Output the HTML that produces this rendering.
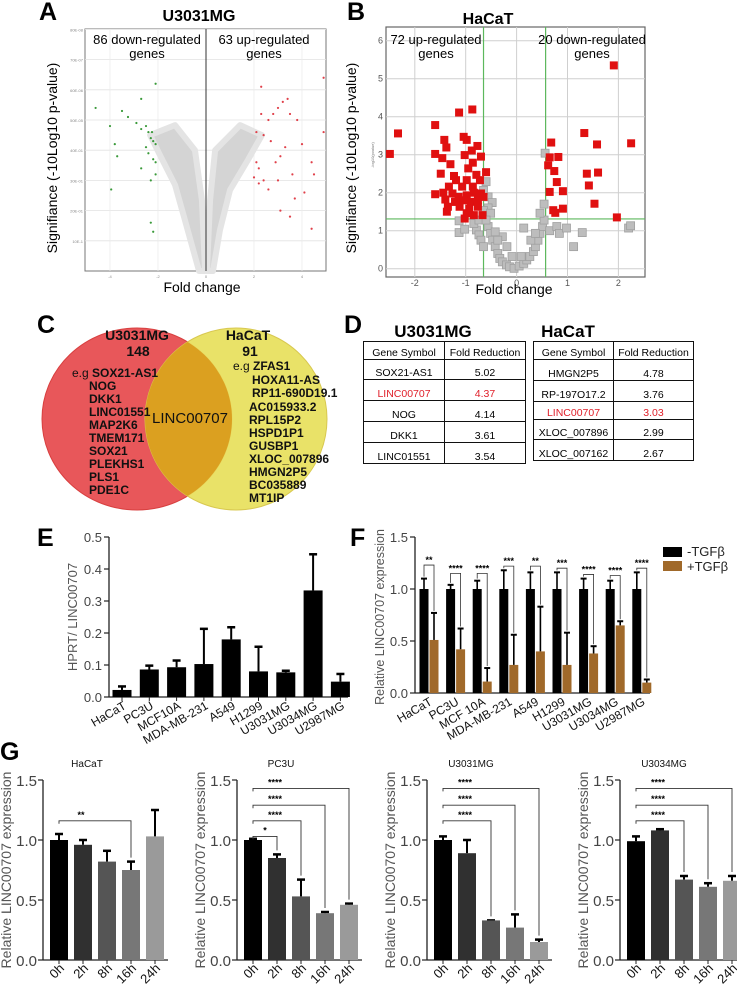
<!DOCTYPE html>
<html><head><meta charset="utf-8"><style>
body{margin:0;background:#fff;}
#wrap{position:relative;width:737px;height:992px;overflow:hidden;background:#fff;font-family:"Liberation Sans",Arial,sans-serif;}
svg{position:absolute;left:0;top:0;}
table.gt{position:absolute;border-collapse:collapse;font-size:10.5px;font-family:"Liberation Sans",sans-serif;}
table.gt td{border:1.5px solid #111;text-align:center;padding:0;vertical-align:bottom;}
.red{color:#e0202a;}
</style></head><body>
<div id="wrap">
<svg id="s" width="737" height="992" viewBox="0 0 737 992">
  <g font-weight="bold" font-size="25" fill="#000">
    <text x="39" y="20">A</text>
    <text x="347" y="20">B</text>
    <text x="37" y="333">C</text>
    <text x="344" y="333">D</text>
    <text x="37" y="546">E</text>
    <text x="350" y="546">F</text>
    <text x="0" y="760">G</text>
  </g>
  <g>
    <ellipse cx="137" cy="419" rx="95" ry="91" fill="#e8575a" stroke="#d84040"/>
    <ellipse cx="236" cy="419" rx="91" ry="91" fill="#e8e060" fill-opacity="0.95" stroke="#d8c850"/>
    <clipPath id="cr"><ellipse cx="137" cy="419" rx="95" ry="91"/></clipPath>
    <ellipse cx="236" cy="419" rx="91" ry="91" fill="#dba020" clip-path="url(#cr)"/>
    <g font-size="12" font-weight="bold" fill="#111">
      <text x="137" y="340" text-anchor="middle" font-size="14">U3031MG</text>
      <text x="138" y="356" text-anchor="middle" font-size="14">148</text>
      <text x="72" y="377" font-weight="normal">e.g <tspan font-weight="bold">SOX21-AS1</tspan></text>
      <text x="89" y="390">NOG</text>
      <text x="89" y="403">DKK1</text>
      <text x="89" y="416">LINC01551</text>
      <text x="89" y="429">MAP2K6</text>
      <text x="89" y="442">TMEM171</text>
      <text x="89" y="455">SOX21</text>
      <text x="89" y="468">PLEKHS1</text>
      <text x="89" y="481">PLS1</text>
      <text x="89" y="494">PDE1C</text>
    </g>
    <text x="190" y="423" text-anchor="middle" font-size="15" fill="#111">LINC00707</text>
    <g font-size="12" font-weight="bold" fill="#111">
      <text x="248" y="340" text-anchor="middle" font-size="14">HaCaT</text>
      <text x="250" y="356" text-anchor="middle" font-size="14">91</text>
      <text x="233" y="370" font-weight="normal">e.g <tspan font-weight="bold">ZFAS1</tspan></text>
      <text x="252" y="384">HOXA11-AS</text>
      <text x="252" y="397">RP11-690D19.1</text>
      <text x="249" y="411">AC015933.2</text>
      <text x="249" y="424">RPL15P2</text>
      <text x="249" y="437">HSPD1P1</text>
      <text x="249" y="450">GUSBP1</text>
      <text x="249" y="463">XLOC_007896</text>
      <text x="249" y="476">HMGN2P5</text>
      <text x="249" y="489">BC035889</text>
      <text x="249" y="502">MT1IP</text>
    </g>
  </g>
  <text x="433" y="337" text-anchor="middle" font-size="17" font-weight="bold">U3031MG</text>
  <text x="568" y="337" text-anchor="middle" font-size="17" font-weight="bold">HaCaT</text>
  <rect x="663" y="547" width="19" height="10" fill="#000"/>
  <text x="687" y="556" font-size="13" fill="#222">-TGFβ</text>
  <rect x="663" y="561" width="19" height="10" fill="#a0692a"/>
  <text x="687" y="571" font-size="13" fill="#222">+TGFβ</text>
</svg>

<table class="gt" style="left:363px;top:341px;width:163px;">
<tr style="height:18px"><td style="width:80px">Gene Symbol</td><td>Fold Reduction</td></tr>
<tr style="height:20px"><td>SOX21-AS1</td><td>5.02</td></tr>
<tr style="height:21px" class="red"><td>LINC00707</td><td>4.37</td></tr>
<tr style="height:21px"><td>NOG</td><td>4.14</td></tr>
<tr style="height:21px"><td>DKK1</td><td>3.61</td></tr>
<tr style="height:21px"><td>LINC01551</td><td>3.54</td></tr>
</table>
<table class="gt" style="left:533px;top:341px;width:161px;">
<tr style="height:18px"><td style="width:79px">Gene Symbol</td><td>Fold Reduction</td></tr>
<tr style="height:21px"><td>HMGN2P5</td><td>4.78</td></tr>
<tr style="height:21px"><td>RP-197O17.2</td><td>3.76</td></tr>
<tr style="height:18px" class="red"><td>LINC00707</td><td>3.03</td></tr>
<tr style="height:20px"><td>XLOC_007896</td><td>2.99</td></tr>
<tr style="height:21px"><td>XLOC_007162</td><td>2.67</td></tr>
</table>
</div>
<script>
const aGreenX=[-4.6,-4.0,-3.5,-3.25,-2.7,-2.9,-2.7,-2.5,-2.4,-2.25,-2.2,-2.1,-2.3,-2.5,-2.4,-2.2,-2.1,-2.1,-3.7,-3.95,-3.8,-2.1,-2.3,-2.2,-2.7,-2.3];
const aGreenY=[5.4,4.8,5.3,5.1,5.7,4.9,4.7,4.8,4.6,4.6,4.3,4.2,4.4,4.1,3.9,3.7,3.6,3.2,3.8,2.7,4.2,6.2,1.6,1.3,3.4,3.0];
const aRedX=[2.3,4.9,3.2,3.4,3.0,2.3,2.6,2.8,3.5,3.8,2.1,2.4,2.7,3.3,3.1,2.9,2.1,2.2,2.0,2.4,3.6,4.0,4.4,4.5,4.1,3.7,3.1,3.5,4.4,2.6,4.9,3.0,2.2];
const aRedY=[6.1,6.4,5.6,5.7,5.4,5.2,5.0,5.2,5.2,5.0,4.6,4.5,4.3,4.1,3.8,3.6,3.6,3.4,3.1,3.0,3.2,4.2,3.6,3.2,2.6,2.4,2.0,1.8,1.4,2.7,4.6,3.0,2.9];
const aCloudLeftX=[-0.29,-0.88,-1.29,-1.92,-2.33,-1.29,-0.46,-0.17,-0.04];
const aCloudLeftY=[0,1.69,2.85,3.84,4.5,4.83,4.0,2.35,0];
const aCloudRightX=[0.04,0.17,0.38,1.42,2.33,1.75,1.0,0.58,0.29];
const aCloudRightY=[0,2.35,4.0,4.83,4.5,3.68,2.68,1.35,0];
const aYTicks=['10E-1','20E-01','30E-01','40E-01','50E-05','60E-06','70E-07','80E-08'];
const aXTicks=[-4,-2,0,2,4];

const bRedX=[-2.49,-2.33,-1.6,-1.13,-0.87,-1.04,-0.98,-1.42,-1.38,-0.77,-1.6,-1.02,-0.70,-1.46,-0.88,-1.30,-0.86,-0.95,-1.49,-1.23,-0.6,-0.79,-0.98,-1.19,-0.72,-1.33,-1.07,-0.86,-1.6,-1.44,-1.26,-1.14,-0.98,-0.84,-0.7,-1.4,-1.19,-1.04,-0.9,-0.76,-0.65,-1.35,-1.12,-0.93,-0.76,-1.37,-0.98,-0.84,-0.67,-1.02,-1.21,0.68,0.82,0.65,0.62,0.74,0.79,0.65,0.91,0.72,0.76,0.91,1.33,1.58,1.38,1.6,1.42,1.53,1.91,1.97,2.25];
const bRedY=[3.02,3.56,3.78,4.11,4.19,3.47,3.39,3.39,3.19,3.23,3.02,2.99,2.95,2.91,3.11,2.75,2.79,2.64,2.5,2.44,2.54,2.47,2.33,2.33,2.33,2.16,2.16,2.16,1.96,2.0,1.98,1.89,1.93,2.0,1.98,1.82,1.76,1.8,1.76,1.8,1.89,1.63,1.63,1.58,1.63,1.5,1.46,1.41,1.41,1.32,1.76,3.32,2.94,2.93,2.72,2.57,2.28,2.02,2.04,1.54,1.47,1.58,3.57,3.27,2.5,2.53,2.19,1.71,5.35,1.35,3.3];
const bGrayX=[-0.6,-0.56,-0.48,-0.56,-0.65,-1.13,-1.13,-1.02,-0.79,-0.74,-0.7,-0.65,-0.56,-0.51,-0.47,-0.42,-0.37,-0.33,-0.28,-0.2,-0.14,-0.05,0.05,0.14,0.2,0.26,0.33,0.37,0.42,0.46,0.51,0.54,0.46,0.54,0.56,0.65,0.79,0.84,0.98,1.12,1.29,2.2,2.24,0.14,-0.28,-0.37,-0.19,-0.09,0.09,-0.42,-0.84,-0.74,0.28,0.37,-0.65,-0.51,-0.6];
const bGrayY=[2.29,1.89,1.74,1.6,1.53,1.26,0.95,1.04,1.02,0.89,0.75,0.58,1.11,0.93,0.75,0.58,0.4,0.27,0.18,0.1,0.05,0.01,0.07,0.14,0.23,0.32,0.45,0.58,0.75,0.93,1.11,1.28,1.46,1.7,3.04,1.0,1.11,0.93,1.07,0.58,0.95,1.07,1.13,1.07,0.84,0.75,0.58,0.32,0.32,0.97,1.19,1.28,0.75,0.93,2.06,1.46,1.28];
const bXTicks=[-2,-1,0,1,2];
const bYTicks=[0,1,2,3,4,5,6];

const eCats=['HaCaT','PC3U','MCF10A','MDA-MB-231','A549','H1299','U3031MG','U3034MG','U2987MG'];
const eVals=[0.022,0.086,0.093,0.103,0.18,0.08,0.077,0.333,0.048];
const eErr=[0.033,0.098,0.114,0.213,0.218,0.157,0.082,0.446,0.072];
const eTicks=[0,0.1,0.2,0.3,0.4,0.5];

const fCats=['HaCaT','PC3U','MCF 10A','MDA-MB-231','A549','H1299','U3031MG','U3034MG','U2987MG'];
const fMinus=[1,1,1,1,1,1,1,1,1];
const fMinusErr=[1.1,1.04,1.08,1.18,1.16,1.16,1.1,1.08,1.16];
const fPlus=[0.51,0.42,0.11,0.27,0.40,0.27,0.38,0.65,0.10];
const fPlusErr=[0.77,0.62,0.24,0.56,0.83,0.58,0.45,0.69,0.13];
const fSig=['**','****','****','***','**','***','****','****','****'];
const fSigY=[1.23,1.15,1.15,1.22,1.22,1.2,1.14,1.13,1.2];
const fTicks=[0,0.5,1.0,1.5];

const gTitles=['HaCaT','PC3U','U3031MG','U3034MG'];
const gTimes=['0h','2h','8h','16h','24h'];
const gVals=[[1.0,0.96,0.82,0.75,1.03],[1.0,0.85,0.53,0.39,0.46],[1.0,0.89,0.33,0.27,0.15],[0.99,1.08,0.67,0.61,0.66]];
const gErr=[[1.05,1.0,0.91,0.82,1.25],[1.01,0.88,0.67,0.40,0.47],[1.03,1.0,0.33,0.38,0.17],[1.03,1.09,0.70,0.64,0.70]];
const gSigTo=[[3],[1,2,3,4],[2,3,4],[2,3,4]];
const gSigLab=[['**'],['*','****','****','****'],['****','****','****'],['****','****','****']];
const gSigY=[[1.16],[1.03,1.16,1.29,1.43],[1.16,1.29,1.43],[1.16,1.29,1.43]];
const gTicks=[0,0.5,1.0,1.5];

const NS='http://www.w3.org/2000/svg';
const S=document.getElementById('s');
function mk(tag,attrs,name,parent){
  const el=document.createElementNS(NS,tag);
  for(const k in attrs) el.setAttribute(k,attrs[k]);
  
  
  (parent||S).appendChild(el);
  return el;
}
function tx(x,y,str,attrs,name,parent){
  const el=mk('text',Object.assign({x:x,y:y},attrs),name,parent);
  el.textContent=str;
  return el;
}
function ln(x1,y1,x2,y2,stroke,w,name,parent){
  return mk('line',{x1:x1,y1:y1,x2:x2,y2:y2,stroke:stroke,'stroke-width':w},name,parent);
}

(function(){
  const g=mk('g',{},'volcano-u3031mg');
  const xA=v=>206+v*24, yA=v=>271-v*30.2;
  tx(199,21,'U3031MG',{'text-anchor':'middle','font-size':16,'font-weight':'bold'},'volcano-u3031mg-title',g);
  mk('rect',{x:85,y:29,width:241,height:242,fill:'#fff',stroke:'#777','stroke-width':1},'volcano-u3031mg-plot-area',g);
  for(let i=0;i<aYTicks.length;i++){
    const y=yA(i+1);
    ln(85,y,326,y,'#e2e2e2',0.8,'gridline-y',g);
    tx(83,y+2,aYTicks[i],{'text-anchor':'end','font-size':4,fill:'#888'},'y-tick-label',g);
  }
  aXTicks.forEach(v=>{
    if(v!==0) ln(xA(v),29,xA(v),271,'#ececec',0.8,'gridline-x',g);
    tx(xA(v),278,String(v),{'text-anchor':'middle','font-size':4,fill:'#888'},'x-tick-label',g);
  });
  let p=aCloudLeftX.map((v,i)=>xA(v)+','+yA(aCloudLeftY[i])).join(' ');
  mk('polygon',{points:p,fill:'#d4d4d4',stroke:'#e4e4e4','stroke-width':6,'stroke-linejoin':'round'},'gene-cloud-left',g);
  p=aCloudRightX.map((v,i)=>xA(v)+','+yA(aCloudRightY[i])).join(' ');
  mk('polygon',{points:p,fill:'#d4d4d4',stroke:'#e4e4e4','stroke-width':6,'stroke-linejoin':'round'},'gene-cloud-right',g);
  ln(206,29,206,271,'#333',1,'zero-line',g);
  aGreenX.forEach((v,i)=>{mk('circle',{cx:xA(v),cy:yA(aGreenY[i]),r:1.1,fill:'#3a9a3a'},'down-gene-point',g);});
  aRedX.forEach((v,i)=>{mk('circle',{cx:xA(v),cy:yA(aRedY[i]),r:1.1,fill:'#e0404a'},'up-gene-point',g);});
  tx(147,44,'86 down-regulated',{'text-anchor':'middle','font-size':13},'annot-down-count',g);
  tx(147,58,'genes',{'text-anchor':'middle','font-size':13},'annot-down-genes',g);
  tx(264,44,'63 up-regulated',{'text-anchor':'middle','font-size':13},'annot-up-count',g);
  tx(264,58,'genes',{'text-anchor':'middle','font-size':13},'annot-up-genes',g);
  tx(202,292,'Fold change',{'text-anchor':'middle','font-size':14},'x-axis-title',g);
  tx(0,0,'Signifiance (-10Log10 p-value)',{'text-anchor':'middle','font-size':14,transform:'translate(57,158) rotate(-90)'},'y-axis-title',g);
})();

(function(){
  const g=mk('g',{},'volcano-hacat');
  const xB=v=>516.6+v*50.9, yB=v=>268.7-v*38;
  tx(488,24,'HaCaT',{'text-anchor':'middle','font-size':16,'font-weight':'bold'},'volcano-hacat-title',g);
  mk('rect',{x:386,y:27,width:259,height:250,fill:'#fff',stroke:'#666','stroke-width':1.2},'volcano-hacat-plot-area',g);
  bYTicks.forEach(v=>{
    ln(386,yB(v),645,yB(v),'#cfcfcf',1,'gridline-y',g);
    tx(383,yB(v)+3,String(v),{'text-anchor':'end','font-size':9,fill:'#555'},'y-tick-label',g);
  });
  bXTicks.forEach(v=>{
    ln(xB(v),27,xB(v),277,'#cfcfcf',1,'gridline-x',g);
    tx(xB(v),286,String(v),{'text-anchor':'middle','font-size':9,fill:'#555'},'x-tick-label',g);
  });
  ln(xB(-0.65),27,xB(-0.65),277,'#5cb85c',1.2,'threshold-left',g);
  ln(xB(0.57),27,xB(0.57),277,'#5cb85c',1.2,'threshold-right',g);
  ln(386,yB(1.31),645,yB(1.31),'#5cb85c',1.2,'threshold-pvalue',g);
  const cp=mk('clipPath',{id:'cb'},'clip',g);
  mk('rect',{x:386,y:27,width:259,height:250},'clip-rect',cp);
  const pg=mk('g',{'clip-path':'url(#cb)'},'points',g);
  bGrayX.forEach((v,i)=>{mk('rect',{x:xB(v)-4,y:yB(bGrayY[i])-4,width:8,height:8,fill:'#bdbdbd',stroke:'#a0a0a0','stroke-width':0.8},'nonsig-gene-point',pg);});
  bRedX.forEach((v,i)=>{mk('rect',{x:xB(v)-4,y:yB(bRedY[i])-4,width:8,height:8,fill:'#e01010'},'sig-gene-point',pg);});
  tx(436,44,'72 up-regulated',{'text-anchor':'middle','font-size':13},'annot-up-count',g);
  tx(436,58,'genes',{'text-anchor':'middle','font-size':13},'annot-up-genes',g);
  tx(592,44,'20 down-regulated',{'text-anchor':'middle','font-size':13},'annot-down-count',g);
  tx(592,58,'genes',{'text-anchor':'middle','font-size':13},'annot-down-genes',g);
  tx(514,294,'Fold change',{'text-anchor':'middle','font-size':14},'x-axis-title',g);
  tx(0,0,'Signifiance (-10Log10 p-value)',{'text-anchor':'middle','font-size':14,transform:'translate(356,158) rotate(-90)'},'y-axis-title',g);
  tx(0,0,'-log10(pvalue)',{'text-anchor':'middle','font-size':4,fill:'#777',transform:'translate(374,155) rotate(-90)'},'inner-y-label',g);
})();

(function(){
  const g=mk('g',{},'bar-chart-e');
  const yE=v=>697-v*320, xE=i=>122+i*27.3;
  ln(109,537,109,697,'#222',1.3,'y-axis',g);
  ln(109,697,348,697,'#222',1.3,'x-axis',g);
  eTicks.forEach(v=>{
    ln(104,yE(v),109,yE(v),'#222',1.2,'y-tick',g);
    tx(102,yE(v)+5,v.toFixed(1),{'text-anchor':'end','font-size':13,fill:'#444'},'y-tick-label',g);
  });
  eCats.forEach((c,i)=>{
    const x=xE(i);
    ln(x,yE(eVals[i]),x,yE(eErr[i]),'#000',2,'error-bar',g);
    ln(x-4,yE(eErr[i]),x+4,yE(eErr[i]),'#000',2.5,'error-cap',g);
    mk('rect',{x:x-9.5,y:yE(eVals[i]),width:19,height:697-yE(eVals[i]),fill:'#000'},'bar-'+c.toLowerCase(),g);
    ln(x,697,x,701,'#222',1,'x-tick',g);
    tx(0,0,c,{'text-anchor':'end','font-size':12,fill:'#111',transform:'translate('+(x+5)+',708) rotate(-30)'},'x-tick-label',g);
  });
  tx(0,0,'HPRT/ LINC00707',{'text-anchor':'middle','font-size':13,fill:'#555',transform:'translate(77,617) rotate(-90)'},'y-axis-title',g);
})();

(function(){
  const g=mk('g',{},'bar-chart-f');
  const yF=v=>693-v*104, xF=i=>424+i*26.6;
  ln(415,537,415,693,'#222',1.3,'y-axis',g);
  ln(415,693,650,693,'#222',1.3,'x-axis',g);
  fTicks.forEach(v=>{
    ln(410,yF(v),415,yF(v),'#222',1.2,'y-tick',g);
    tx(408,yF(v)+5,v.toFixed(1),{'text-anchor':'end','font-size':13,fill:'#444'},'y-tick-label',g);
  });
  fCats.forEach((c,i)=>{
    const xb=xF(i), xp=xb+10;
    ln(xb,yF(fMinus[i]),xb,yF(fMinusErr[i]),'#000',1.6,'error-bar',g);
    ln(xb-3,yF(fMinusErr[i]),xb+3,yF(fMinusErr[i]),'#000',2,'error-cap',g);
    mk('rect',{x:xb-4.5,y:yF(fMinus[i]),width:9,height:693-yF(fMinus[i]),fill:'#000'},'bar-minus-tgfb',g);
    ln(xp,yF(fPlus[i]),xp,yF(fPlusErr[i]),'#000',1.6,'error-bar',g);
    ln(xp-3,yF(fPlusErr[i]),xp+3,yF(fPlusErr[i]),'#000',2,'error-cap',g);
    mk('rect',{x:xp-4.5,y:yF(fPlus[i]),width:9,height:693-yF(fPlus[i]),fill:'#a0692a'},'bar-plus-tgfb',g);
    const ys=yF(fSigY[i]);
    mk('polyline',{points:xb+','+(yF(fMinusErr[i])-2)+' '+xb+','+ys+' '+xp+','+ys+' '+xp+','+(yF(fPlusErr[i])-2),fill:'none',stroke:'#333','stroke-width':0.8},'significance-bracket',g);
    tx(xb+5,ys-2,fSig[i],{'text-anchor':'middle','font-size':9,'font-weight':'bold'},'significance-label',g);
    tx(0,0,c,{'text-anchor':'end','font-size':12,fill:'#111',transform:'translate('+(xb+9)+',704) rotate(-30)'},'x-tick-label',g);
  });
  tx(0,0,'Relative  LINC00707 expression',{'text-anchor':'middle','font-size':12.5,fill:'#555',transform:'translate(384,617) rotate(-90)'},'y-axis-title',g);
})();

(function(){
  const axisX=[43,237,427,620];
  const cols=['#000','#303030','#555','#777','#9a9a9a'];
  const yG=v=>960-v*120;
  gTitles.forEach((t,p)=>{
    const g=mk('g',{},'time-course-'+t.toLowerCase());
    const ax=axisX[p], xG=i=>ax+16+i*24;
    tx(ax+44,767,t,{'text-anchor':'middle','font-size':10,fill:'#111'},'subplot-title',g);
    ln(ax,780,ax,960,'#222',1.3,'y-axis',g);
    ln(ax,960,ax+125,960,'#222',1.3,'x-axis',g);
    gTicks.forEach(v=>{
      ln(ax-5,yG(v),ax,yG(v),'#222',1.2,'y-tick',g);
      tx(ax-6,yG(v)+6,v.toFixed(1),{'text-anchor':'end','font-size':15,fill:'#444'},'y-tick-label',g);
    });
    gTimes.forEach((tm,i)=>{
      const x=xG(i);
      ln(x,yG(gVals[p][i]),x,yG(gErr[p][i]),'#000',2,'error-bar',g);
      ln(x-4,yG(gErr[p][i]),x+4,yG(gErr[p][i]),'#000',2.5,'error-cap',g);
      mk('rect',{x:x-9,y:yG(gVals[p][i]),width:18,height:960-yG(gVals[p][i]),fill:cols[i]},'bar-'+tm,g);
      ln(x,960,x,964,'#222',1,'x-tick',g);
      tx(0,0,tm,{'text-anchor':'end','font-size':13,fill:'#111',transform:'translate('+(x+6)+',969) rotate(-45)'},'x-tick-label',g);
    });
    gSigTo[p].forEach((j,k)=>{
      const ys=yG(gSigY[p][k]), x0=xG(0), x1=xG(j);
      mk('polyline',{points:x0+','+(ys+3)+' '+x0+','+ys+' '+x1+','+ys+' '+x1+','+(yG(gErr[p][j])-4),fill:'none',stroke:'#333','stroke-width':0.9},'significance-bracket',g);
      const lx = gSigLab[p][k]==='*' ? (x0+x1)/2 : x0+22;
      tx(lx,ys-3,gSigLab[p][k],{'text-anchor':'middle','font-size':9,'font-weight':'bold'},'significance-label',g);
    });
    tx(0,0,'Relative  LINC00707 expression',{'text-anchor':'middle','font-size':14,fill:'#555',transform:'translate('+(ax-32)+',870) rotate(-90)'},'y-axis-title',g);
  });
})();
</script>
</body></html>
